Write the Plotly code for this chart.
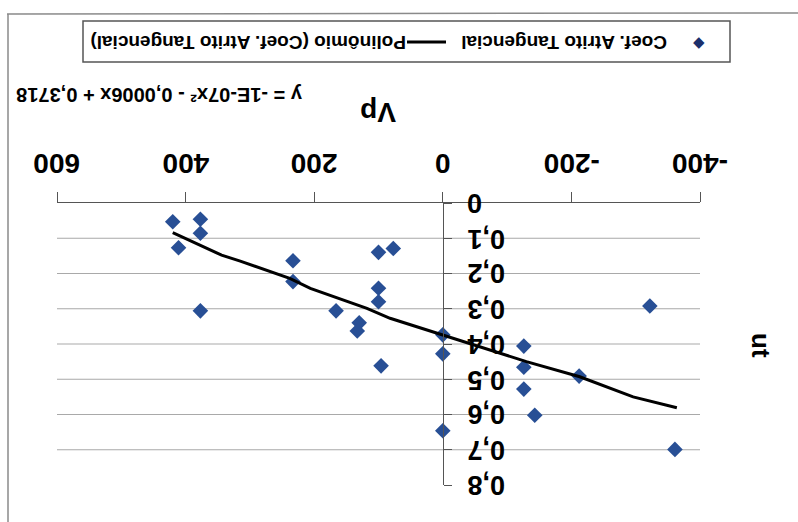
import plotly.graph_objects as go

# ---------------- data ----------------
vp_points = [420, 377, 377, 411, 377, 233, 233, 100, 77, 100, 100, 166, 130, 133, 96,
             -322, 0, 0, -126, -126, -126, -212, -143, 0, -361]
ut_points = [0.053, 0.046, 0.086, 0.127, 0.306, 0.164, 0.223, 0.140, 0.129, 0.242, 0.280,
             0.306, 0.340, 0.363, 0.462, 0.292, 0.374, 0.428, 0.406, 0.466, 0.528, 0.491,
             0.602, 0.646, 0.699]

trend_vp = [420, 344, 315, 289, 238, 206, 165, 118, 82, 41, 0, -130, -213, -296, -364]
trend_ut = [0.084, 0.148, 0.165, 0.181, 0.214, 0.242, 0.268, 0.299, 0.327, 0.351, 0.374,
            0.450, 0.493, 0.550, 0.581]

x_ticks = [600, 400, 200, 0, -200, -400]
x_tick_text = ["600", "400", "200", "0", "-200", "-400"]
y_ticks = [0, 0.1, 0.2, 0.3, 0.4, 0.5, 0.6, 0.7, 0.8]
y_tick_text = ["0", "0,1", "0,2", "0,3", "0,4", "0,5", "0,6", "0,7", "0,8"]
grid_vals = [0.1, 0.2, 0.3, 0.4, 0.5, 0.6, 0.7]

series_name = "Coef. Atrito Tangencial"
trend_name = "Polinômio (Coef. Atrito Tangencial)"
equation = "y = -1E-07x² - 0,0006x + 0,3718"
x_title = "Vp"
y_title = "ut"

# ---------------- layout geometry ----------------
W, H = 798, 522
L, R, T, B = 57, 98, 203, 37
PW, PH = W - L - R, H - T - B


def px(xp):
    return (xp - L) / PW


def py(yp):
    return (H - B - yp) / PH


FONT = "Liberation Sans, Arial, sans-serif"
MARK = "#284f95"

fig = go.Figure()
fig.add_trace(go.Scatter(x=vp_points, y=ut_points, mode="markers",
                         marker=dict(symbol="diamond", size=12, color=MARK,
                                     line=dict(width=0)),
                         name=series_name, showlegend=False))
fig.add_trace(go.Scatter(x=trend_vp, y=trend_ut, mode="lines",
                         line=dict(color="black", width=3),
                         name=trend_name, showlegend=False))

shapes = []
for v in grid_vals:
    shapes.append(dict(type="line", xref="paper", x0=0, x1=1, yref="y", y0=v, y1=v,
                       line=dict(color="#a9a9a9", width=1.2), layer="below"))
# outer chart frame (top and left edges visible)
shapes.append(dict(type="line", xref="paper", yref="paper", x0=px(7), x1=px(800),
                   y0=py(14), y1=py(13), line=dict(color="#8a8a8a", width=1.5)))
shapes.append(dict(type="line", xref="paper", yref="paper", x0=px(8), x1=px(8),
                   y0=py(14), y1=py(525), line=dict(color="#8a8a8a", width=1.5)))
# legend box
shapes.append(dict(type="rect", xref="paper", yref="paper", x0=px(83), x1=px(730),
                   y0=py(62), y1=py(21), line=dict(color="#555555", width=1.5),
                   fillcolor="white"))
# legend line sample
shapes.append(dict(type="line", xref="paper", yref="paper", x0=px(407), x1=px(446),
                   y0=py(42), y1=py(42), line=dict(color="black", width=3)))


def ann(text, x, y, size, angle=180, xref="paper", yref="paper", xanchor="center",
        yanchor="middle", color="black", weight="bold"):
    return dict(text=text, x=x, y=y, xref=xref, yref=yref, showarrow=False,
                textangle=angle, xanchor=xanchor, yanchor=yanchor,
                font=dict(size=size, color=color, family=FONT, weight=weight))


annotations = [
    ann("◆", px(699), py(42), 15, angle=0, color="#1c2f6b", weight="normal"),
    ann(series_name, px(564), py(42), 19),
    ann(trend_name, px(248), py(42), 19),
    ann(equation, px(159), py(95), 20),
    ann(x_title, px(378), py(112), 28),
    ann(y_title, px(761), py(345), 26, angle=90),
]
for v, t in zip(x_ticks, x_tick_text):
    annotations.append(ann(t, v, py(164), 28, xref="x"))
for v, t in zip(y_ticks, y_tick_text):
    annotations.append(ann(t, px(465), v, 27, yref="y", xanchor="left"))

fig.update_layout(
    width=W, height=H,
    margin=dict(l=L, r=R, t=T, b=B, pad=0, autoexpand=False),
    paper_bgcolor="white", plot_bgcolor="white",
    separators=",.",
    showlegend=False,
    shapes=shapes,
    annotations=annotations,
    xaxis=dict(range=[600, -400], side="top", showline=True, linecolor="#555555",
               linewidth=1.3, ticks="outside", ticklen=10, tickcolor="#555555",
               tickvals=x_ticks, showticklabels=False, showgrid=False,
               zeroline=False, automargin=False),
    yaxis=dict(range=[0.8, 0], anchor="free", position=0.6, side="right",
               showline=True, linecolor="#555555", linewidth=1.3,
               ticks="outside", ticklen=8, tickcolor="#555555",
               tickvals=y_ticks, showticklabels=False,
               showgrid=False, zeroline=False, automargin=False),
)

fig.write_html("out.html", config={"displayModeBar": False},
               post_script="document.body.style.margin='0';document.body.style.padding='0';")
